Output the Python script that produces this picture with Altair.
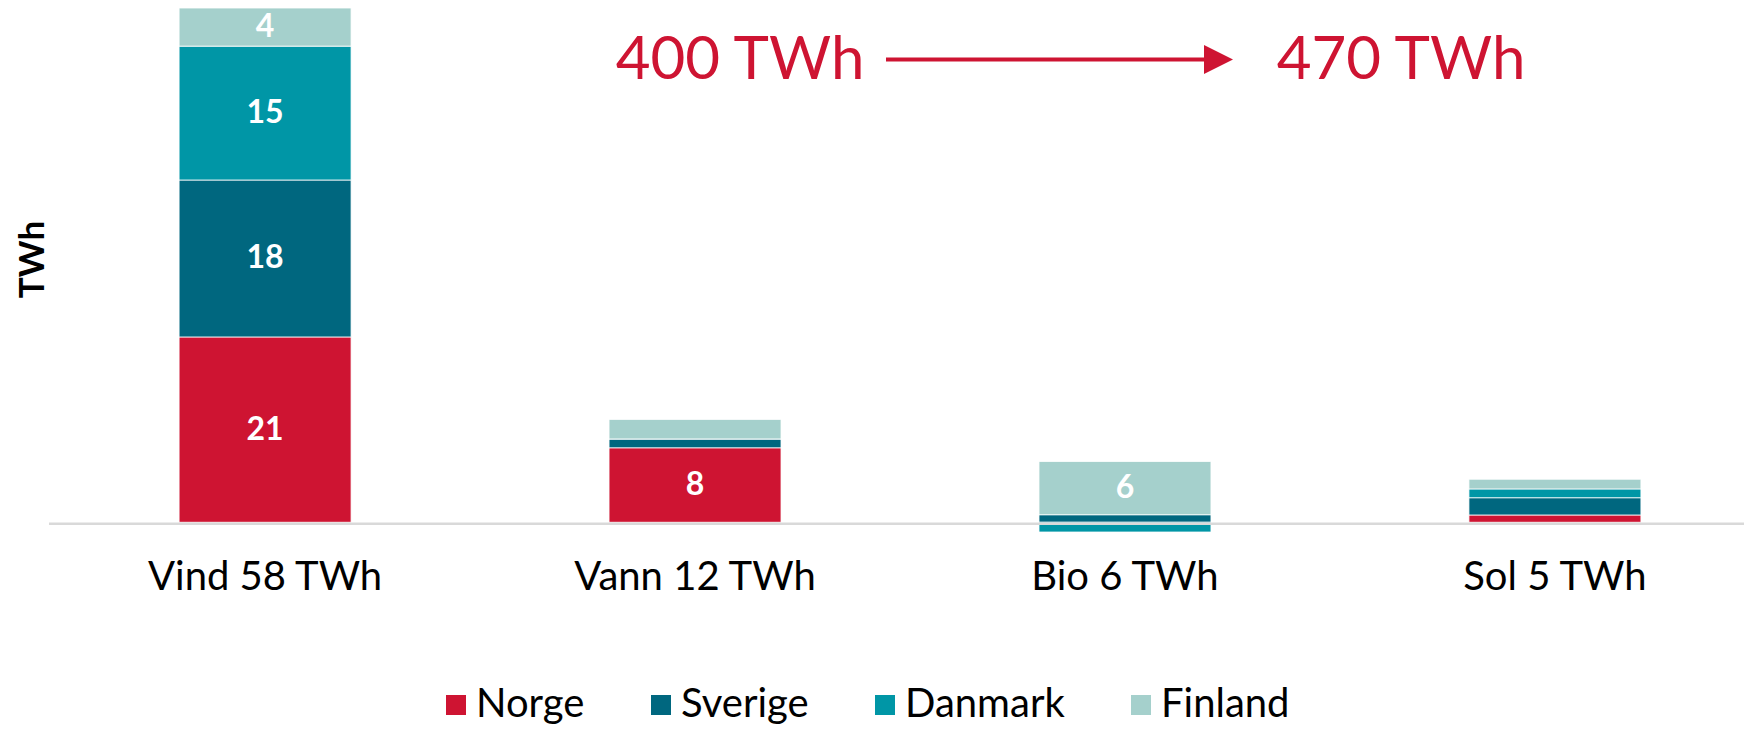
import altair as alt
import pandas as pd

categories = ["Vind 58 TWh", "Vann 12 TWh", "Bio 6 TWh", "Sol 5 TWh"]
countries = ["Norge", "Sverige", "Danmark", "Finland"]
norge = [20.9, 8.4, 0.0, 0.82]
sverige = [17.7, 1.0, 0.85, 1.95]
danmark = [15.1, 0.0, -1.1, 0.99]
finland = [4.3, 2.2, 6.0, 1.09]
colors = ["#CE1432", "#00677F", "#0096A6", "#A5D0CC"]
headline_from = "400 TWh"
headline_to = "470 TWh"
y_title = "TWh"

RED = "#CE1432"
FONT = "Lato"

rows = []
series = [norge, sverige, danmark, finland]
for ci, cat in enumerate(categories):
    for si, name in enumerate(countries):
        rows.append({"cat": cat, "country": name, "idx": si, "value": series[si][ci]})
df = pd.DataFrame(rows)

yscale = alt.Scale(domain=[-2, 58], nice=False, zero=False)
xscale = alt.Scale(paddingInner=0.6, paddingOuter=0.27, align=0.556)
xaxis = alt.Axis(title=None, ticks=False, domain=False, grid=False, labelAngle=0,
                 labelFont=FONT, labelFontSize=40, labelColor="black", labelPadding=17,
                 labelLimit=0)
yaxis = alt.Axis(title=y_title, labels=False, ticks=False, domain=False, grid=False,
                 titleFont=FONT, titleFontSize=35, titleFontWeight="bold",
                 titleColor="black", titleX=-18, titleY=251, titleAngle=270,
                 titleAlign="center", titleBaseline="middle")

base = alt.Chart(df).transform_stack(
    stack="value", groupby=["cat"], as_=["v0", "v1"],
    sort=[alt.SortField("idx", order="ascending")]
).transform_calculate(
    mid="(datum.v0 + datum.v1) / 2",
    lab="abs(datum.value) >= 3 ? format(datum.value, '.0f') : ''"
)

bars = base.mark_bar(stroke="white", strokeWidth=0.8).encode(
    x=alt.X("cat:N", sort=categories, scale=xscale, axis=xaxis),
    y=alt.Y("v0:Q", scale=yscale, axis=yaxis),
    y2="v1:Q",
    color=alt.Color("country:N", scale=alt.Scale(domain=countries, range=colors),
                    legend=alt.Legend(orient="none", legendX=386, legendY=677,
                                      direction="horizontal", title=None,
                                      symbolType="square", symbolSize=400,
                                      symbolStrokeWidth=0, labelFont=FONT,
                                      labelFontSize=40, labelColor="black",
                                      labelOffset=0, columnPadding=56, padding=0,
                                      labelLimit=0)),
)

labels = base.mark_text(color="white", font=FONT, fontWeight="bold", fontSize=32,
                        baseline="middle").encode(
    x=alt.X("cat:N", sort=categories, scale=xscale, axis=xaxis),
    y=alt.Y("mid:Q", scale=yscale, axis=yaxis),
    text="lab:N",
)

baseline = alt.Chart(pd.DataFrame({"y": [0]})).mark_rule(
    color="#D9D9D9", strokeWidth=2.3, yOffset=1.5).encode(
    y=alt.Y("y:Q", scale=yscale, axis=yaxis),
    x=alt.value(-1), x2=alt.value(1694),
)

head_from = alt.Chart(pd.DataFrame({"t": [headline_from]})).mark_text(
    font=FONT, fontSize=60, color=RED, align="center", baseline="alphabetic").encode(
    text="t:N", x=alt.value(690), y=alt.value(71))

head_to = alt.Chart(pd.DataFrame({"t": [headline_to]})).mark_text(
    font=FONT, fontSize=60, color=RED, align="center", baseline="alphabetic").encode(
    text="t:N", x=alt.value(1351), y=alt.value(71))

arrow_line = alt.Chart(pd.DataFrame({"a": [0]})).mark_rule(
    color=RED, strokeWidth=4).encode(
    x=alt.value(836), x2=alt.value(1160), y=alt.value(51.5))

arrow_head = alt.Chart(pd.DataFrame({"a": [0]})).mark_point(
    shape="M-1,-1L1,0L-1,1Z", filled=True, size=841, color=RED, opacity=1,
    strokeWidth=0).encode(
    x=alt.value(1168.5), y=alt.value(51.5))

chart = alt.layer(bars, labels, baseline, head_from, head_to, arrow_line, arrow_head).properties(
    width=1694, height=532,
    autosize=alt.AutoSizeParams(type="none"),
    padding={"left": 42, "top": 0, "right": 0, "bottom": 186},
).configure(font=FONT, view=alt.ViewConfig(stroke=None))

chart.save("out.html", embed_options={"renderer": "svg", "actions": False})
